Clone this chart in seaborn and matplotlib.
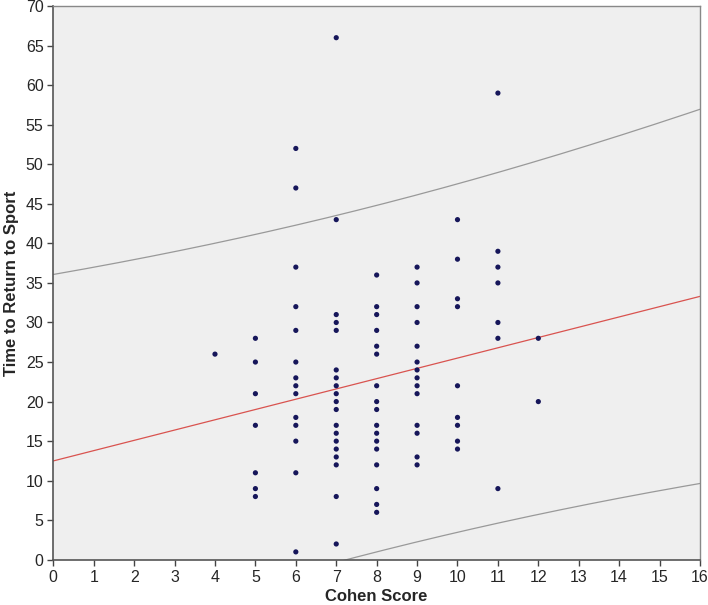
import numpy as np
import pandas as pd
import matplotlib
matplotlib.use("Agg")
import matplotlib.pyplot as plt
import seaborn as sns

# Cohen score -> time to return to sport
cohen_4 = [26]
cohen_5 = [28, 25, 21, 17, 11, 9, 8]
cohen_6 = [52, 47, 37, 32, 29, 25, 23, 22, 21, 18, 17, 15, 11, 1]
cohen_7 = [66, 43, 31, 30, 29, 24, 23, 22, 21, 20, 19, 17, 16, 15, 14, 13, 12, 8, 2]
cohen_8 = [36, 32, 31, 29, 27, 26, 22, 20, 19, 17, 16, 15, 14, 12, 9, 7, 6]
cohen_9 = [37, 35, 32, 30, 27, 25, 24, 23, 22, 21, 17, 16, 13, 12]
cohen_10 = [43, 38, 33, 32, 22, 18, 17, 15, 14]
cohen_11 = [59, 39, 37, 35, 30, 28, 9]
cohen_12 = [28, 20]

# fitted line and 95% prediction band as drawn in the figure
fit_intercept = 12.5
fit_slope = 1.30
band_center_x = 7.9
band_half_min = 21.9      # half-width at the centre
band_curvature = 1.216    # growth of squared half-width per unit^2

groups = {4: cohen_4, 5: cohen_5, 6: cohen_6, 7: cohen_7, 8: cohen_8,
          9: cohen_9, 10: cohen_10, 11: cohen_11, 12: cohen_12}
df = pd.DataFrame([(k, v) for k, vals in groups.items() for v in vals],
                  columns=["cohen", "time"])

sns.set_style("white")
plt.rcParams['font.family'] = ['Liberation Sans', 'DejaVu Sans']

fig = plt.figure(figsize=(7.08, 6.05), dpi=100)
ax = fig.add_axes([0.0753, 0.0747, 0.9134, 0.9153])
ax.set_facecolor("#efefef")

xs = np.linspace(0, 16, 200)
yhat = fit_intercept + fit_slope * xs
half = np.sqrt(band_half_min ** 2 + band_curvature * (xs - band_center_x) ** 2)

sns.lineplot(x=xs, y=yhat, color="#d9534f", lw=0.9, ax=ax)
sns.lineplot(x=xs, y=yhat + half, color="#999999", lw=0.9, ax=ax)
sns.lineplot(x=xs, y=yhat - half, color="#999999", lw=0.9, ax=ax)

sns.scatterplot(data=df, x="cohen", y="time", color="#16165a", s=14,
                edgecolor="none", ax=ax, zorder=5)

ax.set_xlim(0, 16)
ax.set_ylim(0, 70)
ax.set_xticks(range(0, 17))
ax.set_yticks(range(0, 71, 5))
ax.tick_params(axis="both", direction="out", length=4, width=1,
               color="#444444", bottom=True, left=True)
ax.tick_params(axis="y", labelsize=11.5, pad=3)
ax.tick_params(axis="x", labelsize=11.5, pad=3)
for side in ["left", "bottom"]:
    ax.spines[side].set_color("#555555")
    ax.spines[side].set_linewidth(1.2)
for side in ["top", "right"]:
    ax.spines[side].set_color("#888888")
    ax.spines[side].set_linewidth(1.0)

ax.set_xlabel("Cohen Score", fontsize=12, fontweight="bold", labelpad=3)
ax.set_ylabel("Time to Return to Sport", fontsize=12, fontweight="bold", labelpad=5)

fig.savefig("out.png", dpi=100)
